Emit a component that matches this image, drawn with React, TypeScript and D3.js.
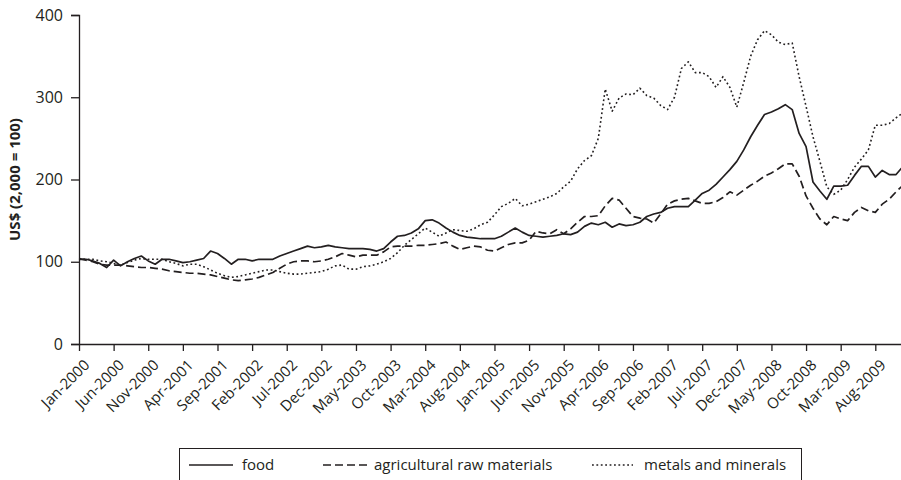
import * as d3 from "d3";
import { useEffect, useRef } from "react";

// monthly index values, Jan-2000 .. Dec-2009 (2000 = 100)
const food = [
  103, 103, 101, 98, 93, 102, 95, 100, 104, 107,
  101, 97, 103, 103, 101, 99, 100, 102, 104, 113,
  110, 104, 97, 103, 103, 101, 103, 103, 103, 107,
  110, 113, 116, 119, 117, 118, 120, 118, 117, 116,
  116, 116, 115, 113, 116, 124, 131, 132, 135, 140,
  150, 151, 147, 141, 136, 132, 130, 129, 128, 128,
  128, 131, 136, 141, 136, 132, 131, 130, 131, 132,
  134, 133, 136, 143, 147, 145, 148, 142, 146, 144,
  145, 148, 155, 158, 160, 165, 167, 167, 167, 175,
  183, 187, 194, 203, 212, 222, 236, 252, 266, 279,
  282, 286, 291, 285, 256, 240, 197, 186, 176, 192,
  192, 193, 205, 216, 216, 203, 211, 206, 206, 216,
];

const agri = [
  104, 102, 100, 97, 96, 96, 96, 95, 94, 93,
  93, 92, 91, 89, 88, 87, 86, 86, 85, 84,
  82, 80, 78, 77, 78, 79, 81, 84, 87, 92,
  97, 100, 101, 101, 100, 101, 103, 106, 110, 108,
  106, 108, 108, 108, 112, 118, 119, 119, 119, 120,
  120, 121, 122, 124, 119, 115, 117, 119, 118, 114,
  113, 117, 121, 123, 123, 126, 137, 135, 134, 139,
  134, 140, 148, 155, 155, 156, 168, 177, 175, 165,
  155, 153, 152, 147, 158, 170, 174, 176, 177, 174,
  171, 171, 173, 178, 185, 181, 187, 193, 198, 204,
  208, 213, 219, 219, 204, 180, 165, 152, 145, 155,
  152, 150, 160, 166, 162, 160, 170, 176, 185, 193,
];

const metals = [
  104, 103, 103, 101, 100, 98, 96, 99, 102, 104,
  103, 103, 103, 100, 98, 95, 97, 97, 94, 90,
  86, 83, 81, 82, 84, 86, 88, 90, 90, 88,
  86, 85, 85, 86, 87, 88, 91, 95, 96, 91,
  91, 94, 95, 97, 100, 104, 111, 120, 127, 134,
  141, 136, 131, 135, 139, 138, 137, 140, 145, 148,
  157, 167, 171, 177, 168, 170, 173, 176, 179, 183,
  191, 198, 213, 223, 229, 250, 310, 283, 299, 304,
  303, 311, 302, 299, 290, 285, 300, 335, 343, 330,
  330, 325, 312, 325, 312, 288, 318, 350, 370, 381,
  376, 367, 364, 366, 325, 289, 252, 222, 191, 182,
  187, 200, 215, 225, 236, 266, 266, 268, 275, 281,
];

// a label every five months
const tickLabels = [
  "Jan-2000", "Jun-2000", "Nov-2000", "Apr-2001", "Sep-2001", "Feb-2002",
  "Jul-2002", "Dec-2002", "May-2003", "Oct-2003", "Mar-2004", "Aug-2004",
  "Jan-2005", "Jun-2005", "Nov-2005", "Apr-2006", "Sep-2006", "Feb-2007",
  "Jul-2007", "Dec-2007", "May-2008", "Oct-2008", "Mar-2009", "Aug-2009",
];

const yTicks = [0, 100, 200, 300, 400];

const seriesNames = ["food", "agricultural raw materials", "metals and minerals"];

const ink = "#231f20";
const font = "'Open Sans', sans-serif";

const App = () => {
  const svgRef = useRef<SVGSVGElement>(null);

  useEffect(() => {
    const width = 901;
    const height = 480;

    const svg = d3.select(svgRef.current);
    svg.selectAll("*").remove();

    const x = d3.scaleLinear().domain([0, 119]).range([79, 903]);
    const y = d3.scaleLinear().domain([0, 400]).range([344, 15]);

    const g = svg.append("g").attr("font-family", font).attr("fill", ink);

    // y axis
    const yAxis = g
      .append("g")
      .attr("transform", `translate(${x(0)},0)`)
      .call(d3.axisLeft(y).tickValues(yTicks).tickSize(8).tickPadding(8));
    yAxis.select(".domain").attr("stroke", ink).attr("stroke-width", 1.3);
    yAxis.selectAll(".tick line").attr("stroke", ink).attr("stroke-width", 1.3);
    yAxis
      .selectAll(".tick text")
      .attr("font-size", 16)
      .attr("font-family", font)
      .attr("fill", ink);

    // x axis
    const xAxis = g
      .append("g")
      .attr("transform", `translate(0,${y(0)})`)
      .call(
        d3
          .axisBottom(x)
          .tickValues(tickLabels.map((_, i) => i * 5))
          .tickSize(7)
          .tickSizeOuter(0)
          .tickFormat((d) => tickLabels[+d / 5])
      );
    xAxis.select(".domain").attr("stroke", ink).attr("stroke-width", 1.3);
    xAxis.selectAll(".tick line").attr("stroke", ink).attr("stroke-width", 1.3);
    xAxis
      .selectAll(".tick text")
      .attr("font-size", 15)
      .attr("font-family", font)
      .attr("fill", ink)
      .attr("text-anchor", "end")
      .attr("x", 0)
      .attr("y", 0)
      .attr("dy", 0)
      .attr("transform", "translate(11,22) rotate(-45)");

    // y title
    g.append("text")
      .attr("transform", `translate(20,${(y(0) + y(400)) / 2}) rotate(-90)`)
      .attr("text-anchor", "middle")
      .attr("font-size", 15)
      .attr("font-weight", "bold")
      .text("US$ (2,000 = 100)");

    const line = d3
      .line<number>()
      .x((_, i) => x(i))
      .y((d) => y(d));

    const dashes = [null, "8,4", "1.8,2.6"];
    const widths = [1.7, 1.7, 1.6];
    const series = [food, agri, metals];

    series.forEach((s, k) => {
      g.append("path")
        .datum(s)
        .attr("fill", "none")
        .attr("stroke", ink)
        .attr("stroke-width", widths[k])
        .attr("stroke-linejoin", "round")
        .attr("stroke-dasharray", dashes[k])
        .attr("d", line);
    });

    // legend
    const legend = g.append("g");
    legend
      .append("rect")
      .attr("x", 179.5)
      .attr("y", 448.5)
      .attr("width", 622)
      .attr("height", 50)
      .attr("fill", "none")
      .attr("stroke", ink)
      .attr("stroke-width", 1);

    const items = [
      { x1: 189, x2: 233, tx: 242 },
      { x1: 323, x2: 369, tx: 374 },
      { x1: 592, x2: 633, tx: 644 },
    ];
    items.forEach((it, k) => {
      legend
        .append("line")
        .attr("x1", it.x1)
        .attr("x2", it.x2)
        .attr("y1", 465)
        .attr("y2", 465)
        .attr("stroke", ink)
        .attr("stroke-width", widths[k])
        .attr("stroke-dasharray", dashes[k]);
      legend
        .append("text")
        .attr("x", it.tx)
        .attr("y", 470)
        .attr("font-size", 15)
        .text(seriesNames[k]);
    });

    svg.attr("width", width).attr("height", height);
  }, []);

  return (
    <div style={{ position: "absolute", left: 0, top: 0 }}>
      <svg ref={svgRef} style={{ display: "block", background: "#fff" }} />
    </div>
  );
};

export default App;
